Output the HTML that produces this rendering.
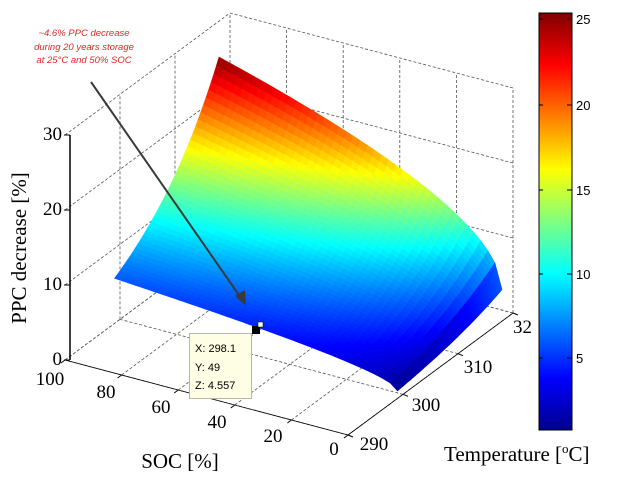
<!DOCTYPE html>
<html><head><meta charset="utf-8"><style>
html,body{margin:0;padding:0;background:#fff;}
svg{display:block;}
.t{font-family:"Liberation Serif",serif;font-size:19px;fill:#000;}
.c{font-family:"Liberation Sans",sans-serif;font-size:13px;fill:#000;}
</style></head><body>
<svg id="s" width="626" height="480" viewBox="0 0 626 480" xmlns="http://www.w3.org/2000/svg">
<defs>
<linearGradient id="jet" x1="0" y1="1" x2="0" y2="0">
<stop offset="0" stop-color="#00008f"/>
<stop offset="0.125" stop-color="#0000ff"/>
<stop offset="0.375" stop-color="#00ffff"/>
<stop offset="0.625" stop-color="#ffff00"/>
<stop offset="0.875" stop-color="#ff0000"/>
<stop offset="1" stop-color="#800000"/>
</linearGradient>
</defs>
<g id="grid" stroke="#555" stroke-width="0.8" fill="none"></g>
<g id="surf"></g>
<g id="axes" stroke="#000" fill="none"></g>
<rect x="539" y="13" width="33" height="417" fill="url(#jet)" stroke="#000" stroke-width="1"/>
<g stroke="#000" stroke-width="1">
<line x1="572" y1="19" x2="567" y2="19"/><line x1="539" y1="19" x2="543" y2="19"/>
<line x1="572" y1="105" x2="567" y2="105"/><line x1="539" y1="105" x2="543" y2="105"/>
<line x1="572" y1="190" x2="567" y2="190"/><line x1="539" y1="190" x2="543" y2="190"/>
<line x1="572" y1="274" x2="567" y2="274"/><line x1="539" y1="274" x2="543" y2="274"/>
<line x1="572" y1="358" x2="567" y2="358"/><line x1="539" y1="358" x2="543" y2="358"/>
</g>
<text class="c" x="576" y="24">25</text>
<text class="c" x="576" y="110">20</text>
<text class="c" x="576" y="195">15</text>
<text class="c" x="576" y="279">10</text>
<text class="c" x="576" y="363">5</text>
<text class="t" x="62" y="365" text-anchor="end">0</text>
<text class="t" x="62" y="290" text-anchor="end">10</text>
<text class="t" x="62" y="215" text-anchor="end">20</text>
<text class="t" x="62" y="140" text-anchor="end">30</text>
<text class="t" x="50" y="385" text-anchor="middle">100</text>
<text class="t" x="106" y="398" text-anchor="middle">80</text>
<text class="t" x="161" y="413" text-anchor="middle">60</text>
<text class="t" x="217" y="428" text-anchor="middle">40</text>
<text class="t" x="273" y="442" text-anchor="middle">20</text>
<text class="t" x="334" y="455" text-anchor="middle">0</text>
<text class="t" x="374" y="450" text-anchor="middle">290</text>
<text class="t" x="426" y="411" text-anchor="middle">300</text>
<text class="t" x="478" y="373" text-anchor="middle">310</text>
<text class="t" x="513" y="333" text-anchor="start">32</text>
<text class="t" style="font-size:21px" x="180" y="468" text-anchor="middle">SOC [%]</text>
<text class="t" style="font-size:21px" x="444" y="461">Temperature [<tspan dy="-8" font-size="13">o</tspan><tspan dy="8">C]</tspan></text>
<text class="t" style="font-size:21px" transform="translate(26,248) rotate(-90)" text-anchor="middle">PPC decrease [%]</text>
<g font-family="Liberation Sans,sans-serif" font-style="italic" font-size="9.5" fill="#e02828" text-anchor="middle">
<text x="84" y="36">~4.6% PPC decrease</text>
<text x="84" y="50">during 20 years storage</text>
<text x="84" y="63">at 25°C and 50% SOC</text>
</g>
<line x1="91" y1="82" x2="241" y2="298" stroke="#3a3a3a" stroke-width="2"/>
<polygon points="246,306 235,296 245,290" fill="#3a3a3a"/>
<rect x="189.5" y="333.5" width="62" height="65" fill="#fefee4" stroke="#b8b8a8"/>
<g font-family="Liberation Sans,sans-serif" font-size="11" fill="#000">
<text x="195" y="352">X: 298.1</text>
<text x="195" y="371">Y: 49</text>
<text x="195" y="389">Z: 4.557</text>
</g>
<rect x="252" y="326" width="8" height="8" fill="#000"/>
<rect x="258" y="322" width="5" height="5" fill="#fff" stroke="#000" stroke-width="0.5"/>
</svg>
<script>
(function(){
var NS="http://www.w3.org/2000/svg";
var A=[65,360],B=[348,435],D=[230,238],ZS=7.5;
function P(T,S,z){var u=(100-S)/100,v=(T-290)/30;return [A[0]+u*(B[0]-A[0])+v*(D[0]-A[0]),A[1]+u*(B[1]-A[1])+v*(D[1]-A[1])-z*ZS];}
function el(p,tag,at){var e=document.createElementNS(NS,tag);for(var k in at)e.setAttribute(k,at[k]);p.appendChild(e);return e;}
var g=document.getElementById('grid');
function dl(a,b){el(g,'line',{x1:a[0],y1:a[1],x2:b[0],y2:b[1],'stroke-dasharray':'3,2'});}
for(var s=0;s<=100;s+=20){dl(P(290,s,0),P(320,s,0));}
for(var t=290;t<=320;t+=10){dl(P(t,0,0),P(t,100,0));}
for(var z=0;z<=30;z+=10){dl(P(290,100,z),P(320,100,z));}
for(var t=300;t<=320;t+=10){dl(P(t,100,0),P(t,100,30));}
for(var z=0;z<=30;z+=10){dl(P(320,0,z),P(320,100,z));}
for(var s=0;s<=80;s+=20){dl(P(320,s,0),P(320,s,30));}
var ax=document.getElementById('axes');
function ln(a,b,w){el(ax,'line',{x1:a[0],y1:a[1],x2:b[0],y2:b[1],'stroke-width':w||1});}
ln([70,135],[70,360],1.5);
for(var z=0;z<=30;z+=10){var y=360-z*7.5;ln([64,y],[70,y],1);}
ln(P(290,100,0),P(290,0,0),0.8);ln(P(290,0,0),P(320,0,0),0.8);
for(var s=0;s<=100;s+=20){var p=P(290,s,0);ln(p,[p[0]-4,p[1]+3],1);}
for(var t=290;t<=320;t+=10){var p=P(t,0,0);ln(p,[p[0]+5,p[1]+2],1);}
function f(T,S){var a=Math.exp(Math.log(4.2)*(T-299)/19);return a*(1+5*Math.pow(S/100,0.5));}
function jet(v){v=Math.max(0,Math.min(1,v));function c(x){return Math.round(255*Math.max(0,Math.min(1,x)));}
var r=c(1.5-Math.abs(4*v-3)),gg=c(1.5-Math.abs(4*v-2)),b=c(1.5-Math.abs(4*v-1));return 'rgb('+r+','+gg+','+b+')';}
var sf=document.getElementById('surf');var N=40,M=40,T0=299,T1=318;var quads=[];
for(var i=0;i<N;i++)for(var j=0;j<M;j++){
var ta=T0+(T1-T0)*i/N,tb=T0+(T1-T0)*(i+1)/N,sa=100*j/M,sb=100*(j+1)/M;
var z1=f(ta,sa),z2=f(tb,sa),z3=f(tb,sb),z4=f(ta,sb);
var zm=(z1+z2+z3+z4)/4;
var pts=[P(ta,sa,z1),P(tb,sa,z2),P(tb,sb,z3),P(ta,sb,z4)];
quads.push({d:(ta+tb)/60+(sa+sb)/200,pts:pts,c:jet((zm-0.7)/24.7)});}
quads.sort(function(a,b){return b.d-a.d;});
quads.forEach(function(q){el(sf,'polygon',{points:q.pts.map(function(p){return p[0].toFixed(1)+','+p[1].toFixed(1);}).join(' '),fill:q.c,stroke:q.c,'stroke-width':0.6});});
})();
</script>
</body></html>
